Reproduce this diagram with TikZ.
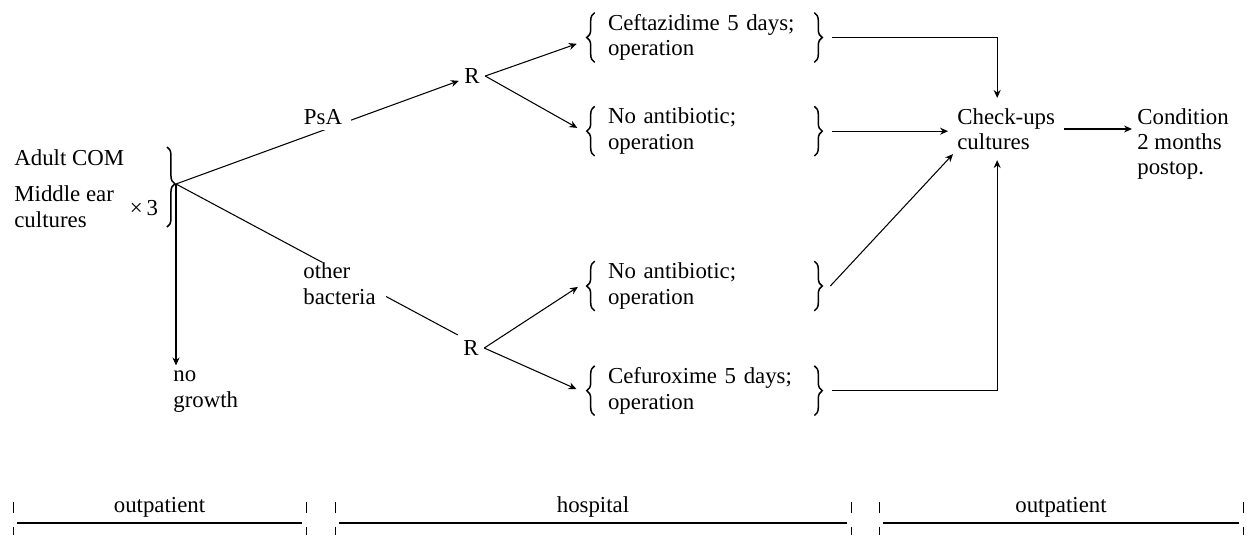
\documentclass[tikz,border=0pt]{standalone}
\usepackage{fontspec}
\setmainfont{Liberation Serif}
\usetikzlibrary{positioning, calc, decorations.pathreplacing, arrows.meta}

\begin{document}
\begin{tikzpicture}[
    x=0.02cm, y=-0.02cm,
    every node/.style={font=\fontsize{13}{14.5}\selectfont},
    txt/.style={inner sep=0pt, align=left},
    choice/.style={
        inner xsep=0.26cm, inner ysep=0pt,
        minimum width=4.38cm, minimum height=0.98cm,
        text width=3.86cm, align=left},
    curly/.style={decorate, decoration={brace, amplitude=4.5pt}, line width=0.85pt},
    link/.style={line width=0.6pt},
    arr/.style={line width=0.6pt, -{Stealth[length=4.5pt, width=4pt]}},
    tick/.style={line width=0.5pt}
]
    \useasboundingbox (0,0) rectangle (1249,535);

    % start
    \node[txt, anchor=base west] (adult) at (14,165) {Adult COM};
    \node[txt, anchor=base west] (middle) at (14,227) {Middle ear\\cultures};
    \node[txt, anchor=base] (times) at (144,215) {×\,3};
    \coordinate (btop) at (167,147);
    \coordinate (bbot) at (167,227);
    \coordinate (branch) at (176,184);
    \draw[curly, decoration={aspect=0.46}] (btop) -- (bbot);

    \node[txt, anchor=base west] (nogrowth) at (173,407) {no\\growth};

    \node[txt, inner sep=3pt, anchor=base] (R1) at (472,83.5) {R};
    \node[txt, inner sep=3pt, anchor=base] (R2) at (471,355.5) {R};

    \draw[arr] (branch) -- (R1);
    \draw[link] (branch) -- (R2.north west);
    \draw[arr, shorten >=0.1cm] (branch) -- (branch |- nogrowth.north);

    \node[txt, fill=white, inner xsep=5pt, inner ysep=3pt, anchor=base] (psa) at (323,124.5) {PsA};
    \node[txt, fill=white, inner xsep=6pt, inner ysep=0.5pt, anchor=base west] (bact) at (292.5,304) {other\\bacteria};

    % hospital
    \node[choice] (opt1) at (704.5,37.5) {Ceftazidime 5 days;\\operation};
    \node[choice, below=0.88cm of opt1] (opt2) {No antibiotic;\\operation};
    \node[choice] (opt3) at (704.5,286) {No antibiotic;\\operation};
    \node[choice, below=1.1cm of opt3] (opt4) {Cefuroxime 5 days;\\operation};

    \foreach \n in {opt1, opt2, opt3, opt4} {
        \draw[curly] (\n.south west) -- (\n.north west);
        \draw[curly] (\n.north east) -- (\n.south east);
    }

    \draw[arr, shorten >=0.38cm] (R1.east) -- (opt1.west);
    \draw[arr, shorten >=0.4cm] (R1.east) -- ([yshift=-0.13cm]opt2.west);
    \draw[arr, shorten >=0.4cm] (R2.east) -- ([yshift=0.2cm]opt3.west);
    \draw[arr, shorten >=0.4cm] (R2.east) -- ([yshift=-0.13cm]opt4.west);

    % follow-up
    \node[txt, inner xsep=0.18cm, inner ysep=0.2cm, anchor=west] (chk) at (948,129) {Check-ups\\cultures};
    \node[txt, inner xsep=0.1cm, anchor=west] (cond) at (1132,144) {Condition\\2 months\\postop.};

    \draw[arr, shorten <=0.36cm] (opt1.east) -| ([xshift=-0.18cm]chk.north);
    \draw[arr, shorten <=0.36cm] (opt2.east) -- (opt2.east -| chk.west);
    \draw[arr] ([xshift=0.32cm]opt3.east) -- ([xshift=0.1cm, yshift=0.12cm]chk.south west);
    \draw[arr, shorten <=0.36cm] (opt4.east) -| ([xshift=-0.18cm]chk.south);
    \draw[arr] (chk.east) -- (chk.east -| cond.west);

    % time line
    \foreach \a/\b/\lab [count=\i] in {13/306/outpatient, 335/851/hospital, 879/1243/outpatient} {
        \node[txt, anchor=base] (span\i) at ({(\a+\b)/2},512) {\lab};
        \draw[tick] (\a,502) -- (\a,513) (\a,527) -- (\a,535);
        \draw[tick] (\b,502) -- (\b,513) (\b,527) -- (\b,535);
        \draw[link] ({\a+4},523) -- ({\b-4},523);
    }
\end{tikzpicture}
\end{document}
